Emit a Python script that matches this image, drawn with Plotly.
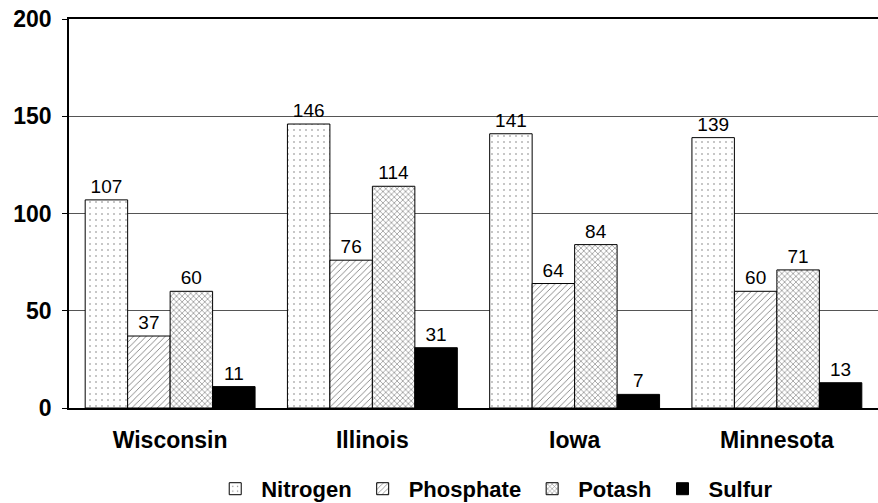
import plotly.graph_objects as go

states = ["Wisconsin", "Illinois", "Iowa", "Minnesota"]
nitrogen = [107, 146, 141, 139]
phosphate = [37, 76, 64, 60]
potash = [60, 114, 84, 71]
sulfur = [11, 31, 7, 13]
y_ticks = [0, 50, 100, 150, 200]

FONT = "Liberation Sans, Arial, Helvetica, sans-serif"

series = [
    ("Nitrogen", nitrogen, dict(shape=".", fgcolor="black", bgcolor="white", size=6, solidity=0.06)),
    ("Phosphate", phosphate, dict(shape="/", fgcolor="black", bgcolor="white", size=4.5, solidity=0.2)),
    ("Potash", potash, dict(shape="x", fgcolor="black", bgcolor="white", size=4, solidity=0.3)),
    ("Sulfur", sulfur, None),
]

fig = go.Figure()
for name, vals, pattern in series:
    marker = dict(color="black" if pattern is None else "white",
                  line=dict(color="black", width=1))
    if pattern is not None:
        marker["pattern"] = pattern
    fig.add_trace(go.Bar(
        name=name, x=states, y=vals, marker=marker,
        text=[str(v) for v in vals], textposition="outside",
        textfont=dict(family=FONT, size=19, color="black"),
        cliponaxis=False,
    ))

fig.update_layout(
    width=878, height=503,
    margin=dict(l=69, r=0, t=19, b=95, autoexpand=False),
    paper_bgcolor="white", plot_bgcolor="white",
    barmode="group", bargap=0.16, bargroupgap=0,
    font=dict(family=FONT, color="black"),
    showlegend=True,
    legend=dict(orientation="h", x=0.525, xanchor="center", y=-0.208, yanchor="middle",
                font=dict(family=FONT, size=22, weight="bold"),
                itemwidth=42, traceorder="normal"),
)
fig.update_xaxes(showline=True, linecolor="black", linewidth=1.5, mirror=True,
                 ticks="", showgrid=False, ticklabelstandoff=11,
                 tickfont=dict(family=FONT, size=23, weight="bold", color="black"))
fig.update_yaxes(range=[0, 200], tickvals=y_ticks, showline=True, linecolor="black",
                 linewidth=1.5, ticks="outside", ticklen=5, tickcolor="black",
                 showgrid=True, gridcolor="#555555", gridwidth=1, zeroline=False,
                 ticklabelstandoff=6,
                 tickfont=dict(family=FONT, size=23, weight="bold", color="black"))

fig.write_html("out.html")
